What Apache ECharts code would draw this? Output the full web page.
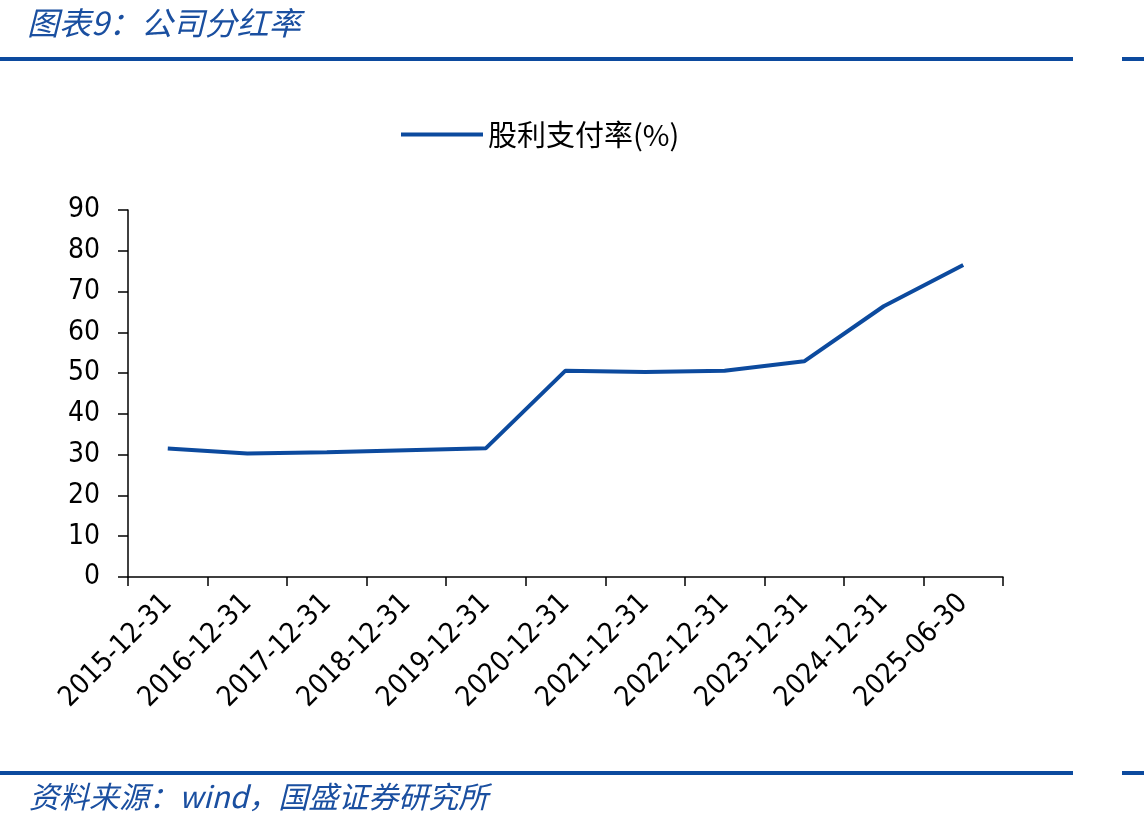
<!DOCTYPE html>
<html>
<head>
<meta charset="utf-8">
<script src="https://cdn.jsdelivr.net/npm/echarts@6/dist/echarts.min.js"></script>
<style>
    html, body { margin: 0; padding: 0; background: #fff; }
    #main { width: 1144px; height: 828px; }
</style>
</head>
<body>
<div id="main"></div>
<script>
    // 数据
    var dates = ['2015-12-31', '2016-12-31', '2017-12-31', '2018-12-31', '2019-12-31', '2020-12-31',
        '2021-12-31', '2022-12-31', '2023-12-31', '2024-12-31', '2025-06-30'];
    var payout = [31.5, 30.3, 30.6, 31.1, 31.6, 50.6, 50.3, 50.6, 52.9, 66.4, 76.5];
    var seriesName = '股利支付率(%)';

    var blue = '#0c4a9e';
    var axisFont = '"DejaVu Sans Condensed", "DejaVu Sans", sans-serif';
    var cjkFont = '"Noto Sans CJK SC", sans-serif';

    var chart = echarts.init(document.getElementById('main'));
    chart.setOption({
        animation: false,
        backgroundColor: '#fff',
        title: [{
            text: '图表9：公司分红率',
            left: 22,
            top: 2,
            textStyle: { color: '#1a4fa0', fontSize: 32, fontStyle: 'italic', fontWeight: 'normal', fontFamily: cjkFont }
        }, {
            text: '资料来源：wind，国盛证券研究所',
            left: 24,
            top: 777,
            textStyle: { color: '#1a4fa0', fontSize: 30, fontStyle: 'italic', fontWeight: 'normal', fontFamily: cjkFont }
        }],
        graphic: [
            { type: 'rect', shape: { x: 0, y: 57, width: 1073, height: 4 }, style: { fill: blue } },
            { type: 'rect', shape: { x: 1122, y: 57, width: 22, height: 4 }, style: { fill: blue } },
            { type: 'rect', shape: { x: 0, y: 771, width: 1073, height: 4 }, style: { fill: blue } },
            { type: 'rect', shape: { x: 1122, y: 771, width: 22, height: 4 }, style: { fill: blue } }
        ],
        legend: {
            data: [seriesName],
            left: 396,
            top: 115,
            icon: 'rect',
            itemWidth: 82,
            itemHeight: 4,
            itemGap: 10,
            textStyle: { color: '#000', fontSize: 29, fontFamily: cjkFont }
        },
        grid: {
            left: 128,
            right: 141,
            top: 210,
            bottom: 251,
            containLabel: false
        },
        xAxis: {
            type: 'category',
            data: dates,
            boundaryGap: true,
            axisLine: { lineStyle: { color: '#000', width: 1.5 } },
            axisTick: { show: true, alignWithLabel: false, length: 9, lineStyle: { color: '#000', width: 1.5 } },
            axisLabel: {
                interval: 0,
                rotate: 45,
                margin: 22,
                color: '#000',
                fontSize: 28,
                fontFamily: axisFont
            },
            splitLine: { show: false }
        },
        yAxis: {
            type: 'value',
            min: 0,
            max: 90,
            interval: 10,
            axisLine: { show: true, lineStyle: { color: '#000', width: 1.5 } },
            axisTick: { show: true, length: 10, lineStyle: { color: '#000', width: 1.5 } },
            axisLabel: {
                margin: 28,
                color: '#000',
                fontSize: 28,
                fontFamily: axisFont
            },
            splitLine: { show: false }
        },
        series: [{
            name: seriesName,
            type: 'line',
            data: payout,
            symbol: 'none',
            lineStyle: { color: blue, width: 4 },
            itemStyle: { color: blue }
        }]
    });
</script>
</body>
</html>
